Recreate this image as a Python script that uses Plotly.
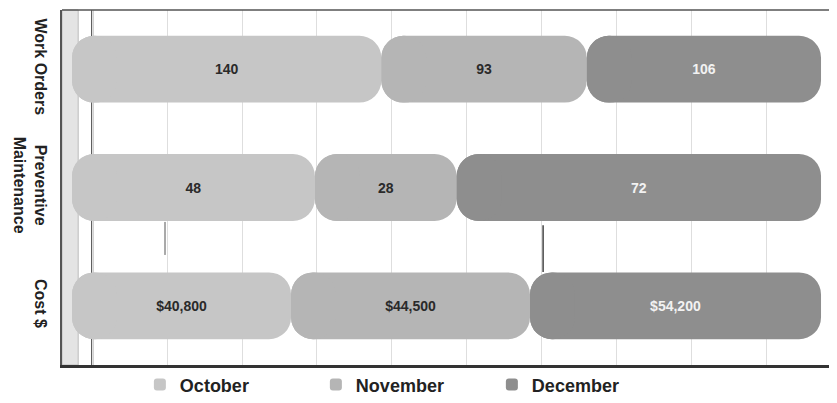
import plotly.graph_objects as go

categories = ["Work Orders", "Preventive<br>Maintenance", "Cost $"]
months = ["October", "November", "December"]
october = [140, 48, 40800]
november = [93, 28, 44500]
december = [106, 72, 54200]
label_fmt = ["{:,}", "{:,}", "${:,}"]

colors = ["#c6c6c6", "#b5b5b5", "#8e8e8e"]
text_colors = ["#2a2a2a", "#2a2a2a", "#f2f2f2"]

series = [october, november, december]
totals = [sum(s[i] for s in series) for i in range(len(categories))]

fig = go.Figure()
starts = [0.0] * len(categories)
FONT = "Liberation Sans, Arial, sans-serif"
for k, (name, vals) in enumerate(zip(months, series)):
    widths = [100.0 * v / t for v, t in zip(vals, totals)]
    texts = [label_fmt[i].format(v) for i, v in enumerate(vals)]
    base = list(starts)
    # main segment (rounded right end)
    fig.add_trace(go.Bar(
        name=name, y=categories, x=widths, base=base, orientation="h",
        width=0.565, text=texts, textposition="inside", insidetextanchor="middle",
        textangle=0,
        textfont=dict(family=FONT, size=14, color=text_colors[k], weight="bold"),
        marker=dict(color=colors[k], line=dict(width=0), cornerradius=22),
        hoverinfo="name+text",
    ))
    # left cap (rounded left end)
    cap = [min(6.0, w / 3) for w in widths]
    fig.add_trace(go.Bar(
        y=categories, x=[-c for c in cap], base=[b + c for b, c in zip(base, cap)],
        orientation="h", width=0.565, showlegend=False, hoverinfo="skip",
        marker=dict(color=colors[k], line=dict(width=0), cornerradius=22),
    ))
    starts = [s + w for s, w in zip(starts, widths)]

# page body has an 8px margin, so the figure is sized/offset to compensate
fig.update_layout(
    width=829, height=395,
    margin=dict(l=54, r=4, t=2, b=38, autoexpand=False),
    paper_bgcolor="white", plot_bgcolor="white",
    barmode="overlay",
    showlegend=True,
    legend=dict(orientation="h", x=0.101, y=-0.056, xanchor="left", yanchor="middle",
                font=dict(family=FONT, size=18, color="#222", weight="bold"),
                entrywidth=131, entrywidthmode="pixels", bgcolor="rgba(0,0,0,0)",
                traceorder="normal"),
    xaxis=dict(range=[-1.335, 101.6], showticklabels=False, tick0=2.7, dtick=10,
               showgrid=True, gridcolor="#dedede", gridwidth=1, zeroline=False,
               showline=True, linecolor="#333", linewidth=2.5, ticks="", automargin=False),
    yaxis=dict(categoryorder="array", categoryarray=categories, autorange="reversed",
               tickangle=90, tickfont=dict(family=FONT, size=16, color="#222", weight="bold"),
               showgrid=False, zeroline=False, showline=True, linecolor="#555",
               linewidth=1.5, mirror=True, ticks="", ticklabelstandoff=6, automargin=False),
    shapes=[
        dict(type="rect", xref="paper", yref="paper", x0=0, x1=0.021, y0=0, y1=1,
             fillcolor="#e4e4e4", line=dict(color="#bbbbbb", width=1), layer="below"),
        dict(type="line", xref="x", yref="paper", x0=2.7, x1=2.7, y0=0, y1=1,
             line=dict(color="#333", width=2), layer="below"),
        dict(type="line", xref="paper", yref="paper", x0=0, x1=1, y0=1, y1=1,
             line=dict(color="#555", width=1.5)),
        dict(type="line", xref="paper", yref="paper", x0=0.1336, x1=0.1336, y0=0.31, y1=0.403,
             line=dict(color="#555", width=1), layer="below"),
        dict(type="line", xref="paper", yref="paper", x0=0.624, x1=0.624, y0=0.262, y1=0.394,
             line=dict(color="#444", width=1.5), layer="below"),
    ],
)

fig.write_html("out.html")
